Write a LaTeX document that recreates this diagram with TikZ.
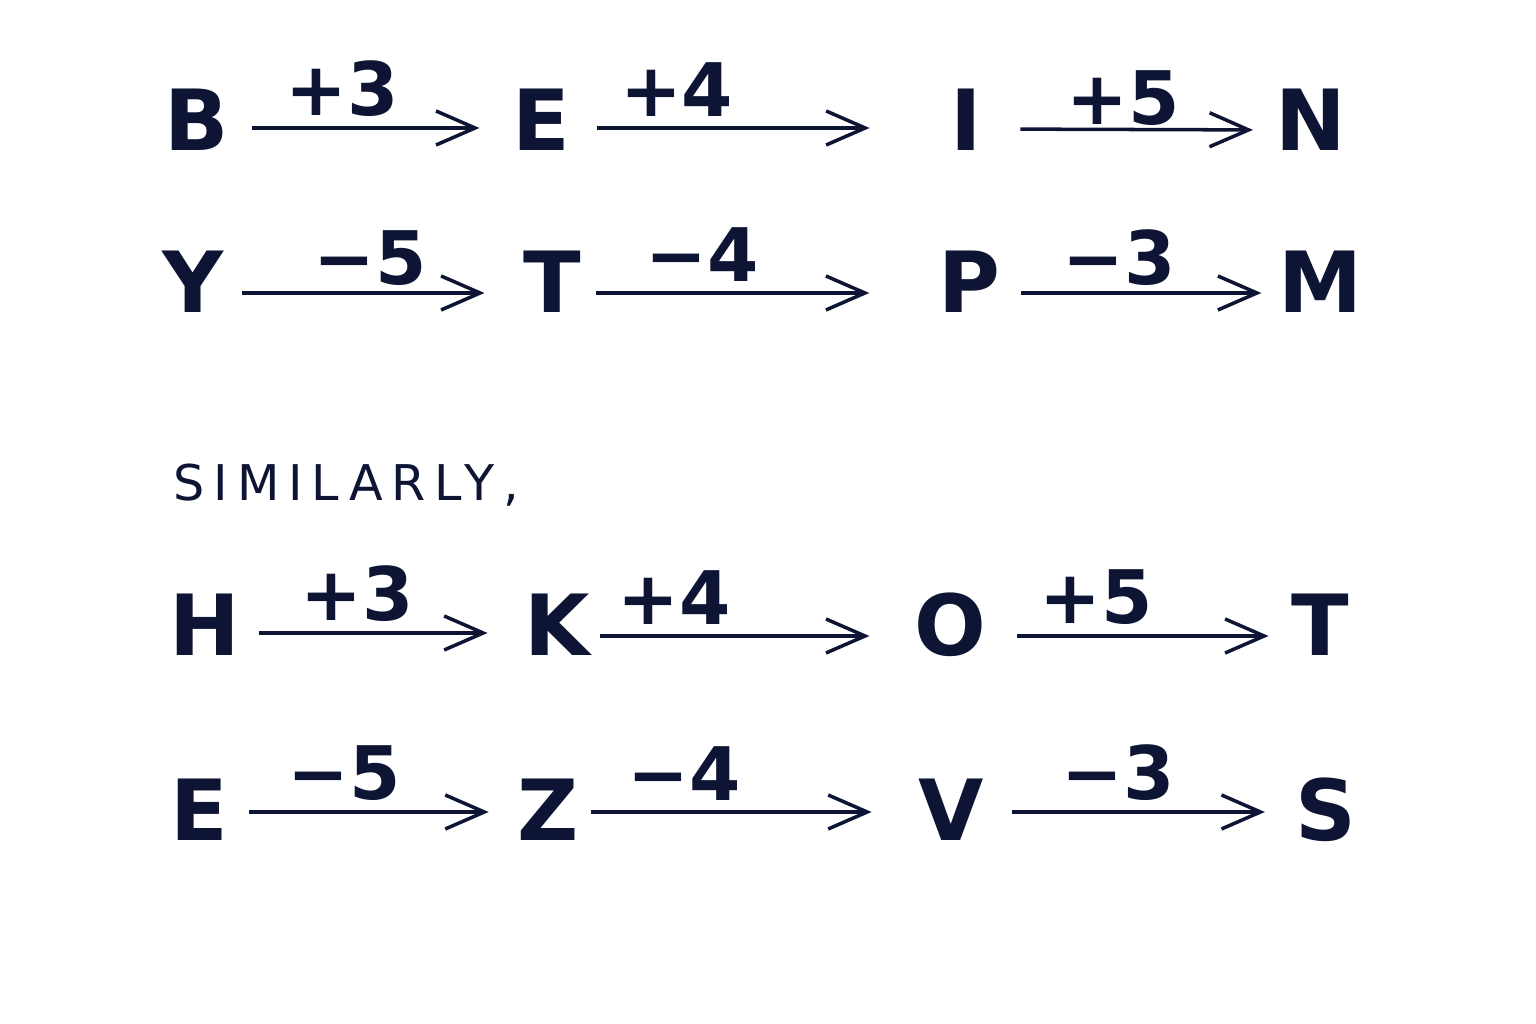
\documentclass[tikz,border=0pt]{standalone}
\usepackage{fontspec}
\setmainfont{DejaVu Sans}
\usetikzlibrary{arrows.meta}
\definecolor{ink}{HTML}{0E1433}

\begin{document}
\begin{tikzpicture}[x=0.01cm,y=-0.01cm,>={Straight Barb[length=3.9mm,width=3.4mm]},
	letter/.style={anchor=base,inner sep=0pt,text=ink,font=\fontsize{24}{29}\selectfont\bfseries},
	shiftlbl/.style={anchor=south,inner sep=0pt,yshift=0.1cm,text=ink,font=\fontsize{21}{24}\selectfont\bfseries},
	link/.style={->,line width=1pt,draw=ink}]
	
	\useasboundingbox (0,0) rectangle (1536,1024);
	
	% Draw the letters of the first word
	\node[letter] (b1) at (197,150) {B};
	\node[letter] (e1) at (541,150) {E};
	\node[letter] (i1) at (966,150) {I};
	\node[letter] (n1) at (1311,150) {N};
	
	% Draw the letters of the second word
	\node[letter] (y2) at (193,312) {Y};
	\node[letter] (t2) at (552,312) {T};
	\node[letter] (p2) at (969,312) {P};
	\node[letter] (m2) at (1320,312) {M};
	
	\node[anchor=base west,inner sep=0pt,text=ink,font=\fontsize{14}{17}\selectfont\addfontfeature{LetterSpace=18}] (sim) at (173,500) {SIMILARLY,};
	
	% Draw the letters of the third word
	\node[letter] (h3) at (205,655) {H};
	\node[letter] (k3) at (557,655) {K};
	\node[letter] (o3) at (950,655) {O};
	\node[letter] (t3) at (1320,655) {T};
	
	% Draw the letters of the fourth word
	\node[letter] (e4) at (199,840) {E};
	\node[letter] (z4) at (548,840) {Z};
	\node[letter] (v4) at (951,840) {V};
	\node[letter] (s4) at (1326,840) {S};
	
	% Draw the shifts
	\draw[link,shorten <=0.22cm,shorten >=0.32cm] ([yshift=0.22cm]b1.base east) -- ([yshift=0.22cm]e1.base west) node[shiftlbl,pos=0.4] {+3};
	\draw[link,shorten <=0.26cm,shorten >=0.80cm] ([yshift=0.22cm]e1.base east) -- ([yshift=0.22cm]i1.base west) node[shiftlbl,pos=0.28] {+4};
	\draw[link,shorten <=0.38cm,shorten >=0.22cm] ([yshift=0.21cm]i1.base east) -- ([yshift=0.2cm]n1.base west) node[shiftlbl,pos=0.48,yshift=-0.08cm] {+5};
	
	\draw[link,shorten <=0.18cm,shorten >=0.38cm] ([yshift=0.19cm]y2.base east) -- ([yshift=0.19cm]t2.base west) node[shiftlbl,pos=0.49,yshift=-0.04cm] {−5};
	\draw[link,shorten <=0.14cm,shorten >=0.68cm] ([yshift=0.19cm]t2.base east) -- ([yshift=0.19cm]p2.base west) node[shiftlbl,pos=0.34] {−4};
	\draw[link,shorten <=0.20cm,shorten >=0.16cm] ([yshift=0.19cm]p2.base east) -- ([yshift=0.19cm]m2.base west) node[shiftlbl,pos=0.43,yshift=-0.04cm] {−3};
	
	\draw[link,shorten <=0.18cm,shorten >=0.36cm] ([yshift=0.22cm]h3.base east) -- ([yshift=0.22cm]k3.base west) node[shiftlbl,pos=0.41] {+3};
	\draw[link,shorten <=0.10cm,shorten >=0.44cm] ([yshift=0.19cm]k3.base east) -- ([yshift=0.19cm]o3.base west) node[shiftlbl,pos=0.26] {+4};
	\draw[link,shorten <=0.30cm,shorten >=0.22cm] ([yshift=0.19cm]o3.base east) -- ([yshift=0.19cm]t3.base west) node[shiftlbl,pos=0.36] {+5};
	
	\draw[link,shorten <=0.20cm,shorten >=0.28cm] ([yshift=0.28cm]e4.base east) -- ([yshift=0.28cm]z4.base west) node[shiftlbl,pos=0.4] {−5};
	\draw[link,shorten <=0.12cm,shorten >=0.46cm] ([yshift=0.28cm]z4.base east) -- ([yshift=0.28cm]v4.base west) node[shiftlbl,pos=0.31] {−4};
	\draw[link,shorten <=0.28cm,shorten >=0.30cm] ([yshift=0.28cm]v4.base east) -- ([yshift=0.28cm]s4.base west) node[shiftlbl,pos=0.43] {−3};
	
\end{tikzpicture}
\end{document}
